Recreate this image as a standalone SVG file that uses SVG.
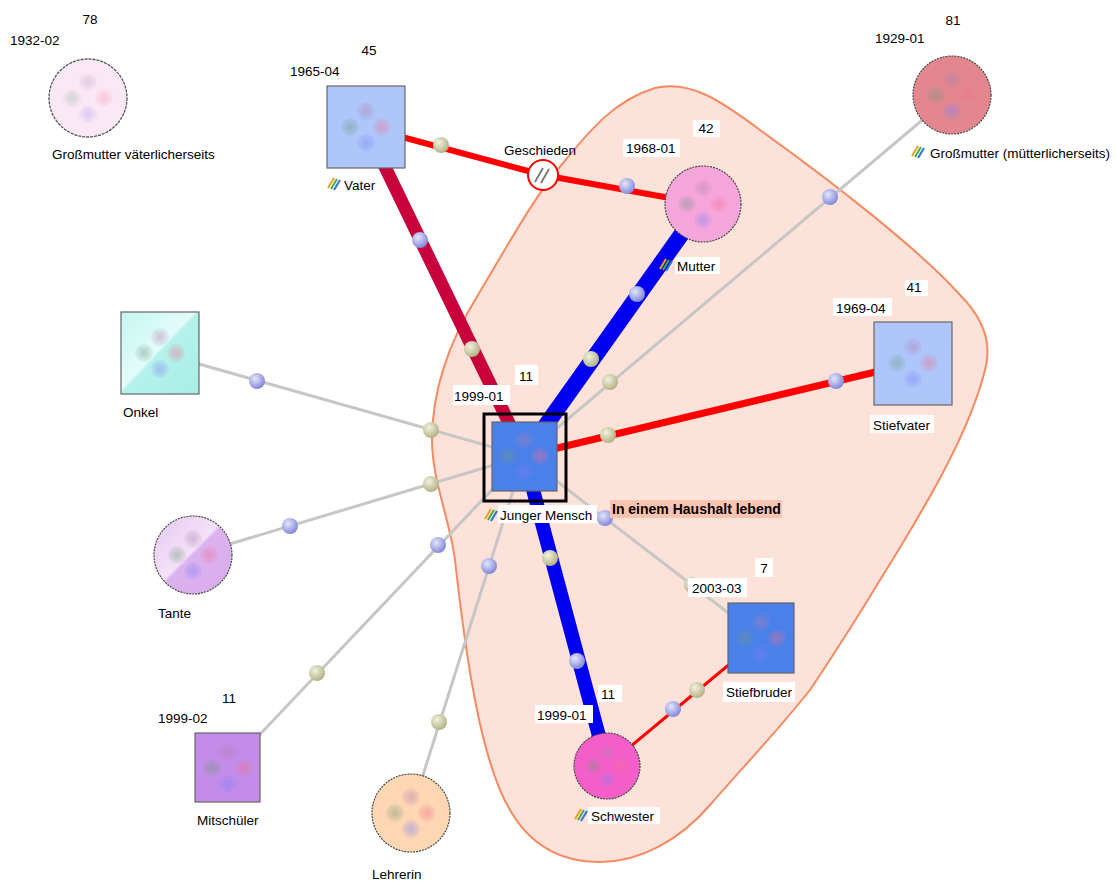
<svg xmlns="http://www.w3.org/2000/svg" width="1116" height="882" viewBox="0 0 1116 882">
<defs>
<style>
text{font-family:"Liberation Sans",Arial,sans-serif;font-size:13.5px;fill:#000}
.b{font-weight:bold;font-size:14px}
.m{text-anchor:middle}
.lbl{fill:#fff}
.gray{stroke:#c6c6c6;stroke-width:3;fill:none}
.node{stroke:#666;stroke-width:1.2}
.circ{stroke:#444;stroke-width:1.2;stroke-dasharray:2 1}
</style>
<radialGradient id="gb" cx="0.38" cy="0.35" r="0.7"><stop offset="0" stop-color="#e4e6fb"/><stop offset="1" stop-color="#7c82d6"/></radialGradient>
<radialGradient id="go" cx="0.38" cy="0.35" r="0.7"><stop offset="0" stop-color="#f2f2e0"/><stop offset="1" stop-color="#aeae80"/></radialGradient>
<radialGradient id="p1"><stop offset="0" stop-color="#b080b0" stop-opacity="0.45"/><stop offset="1" stop-color="#b080b0" stop-opacity="0.1"/></radialGradient>
<radialGradient id="p2"><stop offset="0" stop-color="#709880" stop-opacity="0.45"/><stop offset="1" stop-color="#709880" stop-opacity="0.1"/></radialGradient>
<radialGradient id="p3"><stop offset="0" stop-color="#f07090" stop-opacity="0.45"/><stop offset="1" stop-color="#f07090" stop-opacity="0.1"/></radialGradient>
<radialGradient id="p4"><stop offset="0" stop-color="#8080f8" stop-opacity="0.45"/><stop offset="1" stop-color="#8080f8" stop-opacity="0.1"/></radialGradient>
<linearGradient id="onk" x1="0" y1="0" x2="1" y2="1"><stop offset="0" stop-color="#c4f6f0"/><stop offset="0.47" stop-color="#e4fcf9"/><stop offset="0.5" stop-color="#b4f2ea"/><stop offset="1" stop-color="#a8eee6"/></linearGradient>
<linearGradient id="tan" x1="0" y1="0" x2="1" y2="1"><stop offset="0" stop-color="#e6c8f2"/><stop offset="0.47" stop-color="#f4e2f8"/><stop offset="0.5" stop-color="#dcb2ef"/><stop offset="1" stop-color="#d8aaee"/></linearGradient>
<g id="pips">
<circle cx="0" cy="-16" r="9" fill="url(#p1)"/>
<circle cx="-16" cy="0" r="9" fill="url(#p2)"/>
<circle cx="16" cy="0" r="9" fill="url(#p3)"/>
<circle cx="0" cy="16" r="9" fill="url(#p4)"/>
</g>
<g id="icon">
<line x1="0" y1="10" x2="6" y2="0" stroke="#f0a020" stroke-width="2"/>
<line x1="3" y1="11" x2="9" y2="1" stroke="#40b040" stroke-width="2"/>
<line x1="6" y1="12" x2="12" y2="2" stroke="#3070e0" stroke-width="2"/>
</g>
<circle id="db" r="8" fill="url(#gb)"/>
<circle id="do" r="8" fill="url(#go)"/>
</defs>
<rect width="1116" height="882" fill="#fff"/>

<g id="household">
<path d="M 432,440 C 432,390 450,340 478,295 C 505,250 535,195 563,163 C 590,130 615,100 655,88 C 690,80 720,100 760,130 C 830,180 920,250 960,295 C 985,320 992,345 985,370 C 970,430 930,500 880,580 C 850,630 830,660 810,690 C 770,740 740,770 710,805 C 680,840 640,862 600,862 C 560,862 530,845 510,810 C 480,760 465,650 455,560 C 450,520 432,480 432,440 Z" fill="#fde2d9" stroke="#f58a62" stroke-width="2"/>
</g>

<g id="connectors">
<line class="gray" x1="524" y1="456" x2="952" y2="95"/>
<line class="gray" x1="160" y1="353" x2="524" y2="456"/>
<line class="gray" x1="193" y1="555" x2="524" y2="456"/>
<line class="gray" x1="228" y1="768" x2="524" y2="456"/>
<line class="gray" x1="411" y1="813" x2="524" y2="456"/>
<line class="gray" x1="524" y1="456" x2="761" y2="638"/>
<line x1="761" y1="638" x2="607" y2="766" stroke="#f00" stroke-width="3"/>
<line x1="524" y1="456" x2="913" y2="363" stroke="#f00" stroke-width="7"/>
<polyline points="365,127 543,175 703,204" fill="none" stroke="#f00" stroke-width="6"/>
<line x1="372" y1="140" x2="522" y2="450" stroke="#c8003c" stroke-width="13"/>
<line x1="703" y1="204" x2="524" y2="456" stroke="#0000f0" stroke-width="16"/>
<line x1="524" y1="456" x2="607" y2="766" stroke="#0000f0" stroke-width="14"/>
<use href="#do" x="441" y="145"/>
<use href="#db" x="627" y="186"/>
<use href="#db" x="420" y="240"/>
<use href="#do" x="472" y="349"/>
<use href="#db" x="637" y="294"/>
<use href="#do" x="591" y="359"/>
<use href="#do" x="550" y="558"/>
<use href="#db" x="577" y="661"/>
<use href="#do" x="608" y="435"/>
<use href="#db" x="836" y="381"/>
<use href="#do" x="610" y="382"/>
<use href="#db" x="830" y="197"/>
<use href="#db" x="257" y="381"/>
<use href="#do" x="431" y="430"/>
<use href="#db" x="290" y="526"/>
<use href="#do" x="431" y="484"/>
<use href="#do" x="317" y="673"/>
<use href="#db" x="438" y="545"/>
<use href="#do" x="439" y="722"/>
<use href="#db" x="489" y="566"/>
<use href="#db" x="605" y="518"/>
<use href="#do" x="692" y="585"/>
<use href="#do" x="697" y="690"/>
<use href="#db" x="673" y="709"/>
<g id="geschieden">
<circle cx="543" cy="175" r="15" fill="#fff" stroke="#f00" stroke-width="2"/>
<line x1="535" y1="182" x2="543" y2="168" stroke="#777" stroke-width="1.8"/>
<line x1="541" y1="183" x2="549" y2="169" stroke="#777" stroke-width="1.8"/>
<text x="540" y="155" class="m">Geschieden</text>
</g>
</g>

<g id="n-gm-v">
<circle cx="88" cy="98" r="39" fill="#fbe8f5" stroke="#555" stroke-width="1.3" stroke-dasharray="3 1"/>
<use href="#pips" x="88" y="98" opacity="0.6"/>
<text x="90" y="24" class="m">78</text>
<text x="10" y="45">1932-02</text>
<text x="52" y="159">Großmutter väterlicherseits</text>
</g>

<g id="n-vater">
<rect x="327" y="86" width="78" height="82" fill="#aec6fa" class="node"/>
<use href="#pips" x="366" y="127"/>
<text x="369" y="55" class="m">45</text>
<text x="290" y="76">1965-04</text>
<use href="#icon" x="328" y="178"/>
<text x="344" y="190">Vater</text>
</g>

<g id="n-mutter">
<circle cx="703" cy="204" r="38" fill="#f7a6dc" class="circ"/>
<use href="#pips" x="703" y="204"/>
<rect x="693" y="120" width="27" height="17" class="lbl"/>
<text x="706" y="133" class="m">42</text>
<rect x="623" y="139" width="57" height="18" class="lbl"/>
<text x="626" y="153">1968-01</text>
<rect x="675" y="257" width="45" height="17" class="lbl"/>
<use href="#icon" x="660" y="259"/>
<text x="677" y="271">Mutter</text>
</g>

<g id="n-gm-m">
<circle cx="952" cy="95" r="39" fill="#e3868e" class="circ"/>
<use href="#pips" x="952" y="95"/>
<text x="953" y="25" class="m">81</text>
<text x="875" y="43">1929-01</text>
<use href="#icon" x="912" y="146"/>
<text x="930" y="158">Großmutter  (mütterlicherseits)</text>
</g>

<g id="n-stiefvater">
<rect x="874" y="322" width="78" height="83" fill="#aec6fa" class="node"/>
<use href="#pips" x="913" y="363"/>
<rect x="905" y="280" width="23" height="16" class="lbl"/>
<text x="914" y="292" class="m">41</text>
<rect x="833" y="298" width="59" height="18" class="lbl"/>
<text x="836" y="313">1969-04</text>
<rect x="870" y="415" width="64" height="18" class="lbl"/>
<text x="873" y="430">Stiefvater</text>
</g>

<g id="n-jm">
<rect x="484" y="414" width="82" height="87" fill="none" stroke="#000" stroke-width="3"/>
<rect x="492" y="422" width="65" height="69" fill="#4a80ea" class="node"/>
<use href="#pips" x="524" y="456"/>
<rect x="515" y="365" width="23" height="20" class="lbl"/>
<text x="526" y="381" class="m">11</text>
<rect x="453" y="385" width="57" height="20" class="lbl"/>
<text x="454" y="401">1999-01</text>
<rect x="498" y="505" width="99" height="18" class="lbl"/>
<use href="#icon" x="485" y="509"/>
<text x="500" y="520">Junger Mensch</text>
<rect x="610" y="500" width="172" height="18" fill="#fbc4b0"/>
<text x="612" y="514" class="b">In einem Haushalt lebend</text>
</g>

<g id="n-stiefbruder">
<rect x="728" y="603" width="66" height="70" fill="#4a80ea" class="node"/>
<use href="#pips" x="761" y="638"/>
<rect x="755" y="558" width="18" height="19" class="lbl"/>
<text x="764" y="573" class="m">7</text>
<rect x="688" y="578" width="59" height="19" class="lbl"/>
<text x="692" y="593">2003-03</text>
<rect x="723" y="682" width="72" height="20" class="lbl"/>
<text x="726" y="697">Stiefbruder</text>
</g>

<g id="n-schwester">
<circle cx="607" cy="766" r="33" fill="#f45ec8" class="circ"/>
<use href="#pips" x="607" y="766" transform="translate(607 766) scale(0.85) translate(-607 -766)"/>
<rect x="598" y="685" width="24" height="17" class="lbl"/>
<text x="608" y="699" class="m">11</text>
<rect x="535" y="705" width="58" height="18" class="lbl"/>
<text x="537" y="720">1999-01</text>
<rect x="588" y="807" width="72" height="17" class="lbl"/>
<use href="#icon" x="575" y="809"/>
<text x="591" y="821">Schwester</text>
</g>

<g id="n-onkel">
<rect x="121" y="312" width="78" height="82" fill="url(#onk)" class="node"/>
<use href="#pips" x="160" y="353"/>
<text x="123" y="417">Onkel</text>
</g>

<g id="n-tante">
<circle cx="193" cy="555" r="39" fill="url(#tan)" class="circ"/>
<use href="#pips" x="193" y="555"/>
<text x="158" y="618">Tante</text>
</g>

<g id="n-mitschueler">
<rect x="195" y="733" width="65" height="69" fill="#c38ce8" class="node"/>
<use href="#pips" x="228" y="768"/>
<text x="229" y="703" class="m">11</text>
<text x="158" y="723">1999-02</text>
<text x="197" y="825">Mitschüler</text>
</g>

<g id="n-lehrerin">
<circle cx="411" cy="813" r="39" fill="#fdd6b2" class="circ"/>
<use href="#pips" x="411" y="813"/>
<text x="372" y="879">Lehrerin</text>
</g>
</svg>
